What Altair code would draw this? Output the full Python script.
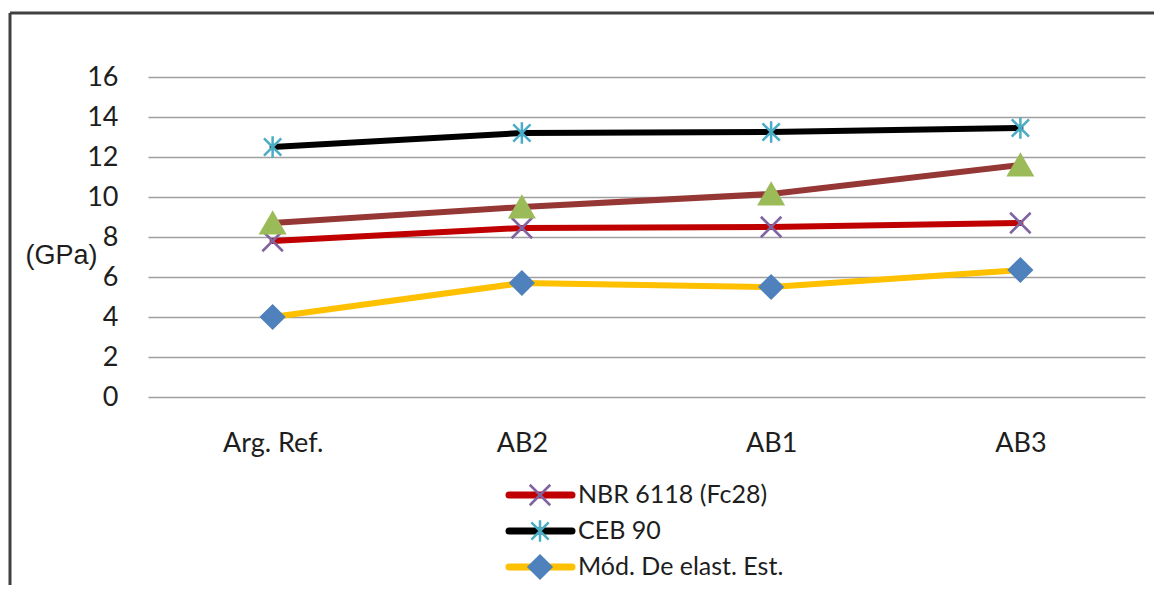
import altair as alt
import pandas as pd

# ---- data ----
categories = ["Arg. Ref.", "AB2", "AB1", "AB3"]
series_names = ["NBR 6118 (Fc28)", "CEB 90", "Mód. De elast. Est.", "Série 4"]
nbr_6118 = [7.8, 8.45, 8.5, 8.7]
ceb_90 = [12.5, 13.2, 13.25, 13.45]
mod_elast = [4.0, 5.7, 5.5, 6.35]
serie_4 = [8.7, 9.5, 10.15, 11.6]
legend_names = series_names[:3]
y_ticks = [0, 2, 4, 6, 8, 10, 12, 14, 16]

# ---- styles ----
line_colors = ["#C00000", "#000000", "#FFC000", "#953735"]
marker_colors = ["#8064A2", "#4BACC6", "#4F81BD", "#9BBB59"]
marker_shapes = [
    "M-1,-1L1,1M1,-1L-1,1",
    "M0,-1L0,1M-0.8,-0.8L0.8,0.8M-0.8,0.8L0.8,-0.8",
    "diamond",
    "triangle-up",
]
marker_sizes = [420, 560, 400, 441]
FONT = "Lato"
TEXT_COLOR = "#1e1e1e"

rows = []
for name, vals in zip(series_names, [nbr_6118, ceb_90, mod_elast, serie_4]):
    for c, v in zip(categories, vals):
        rows.append({"category": c, "series": name, "value": v})
df = pd.DataFrame(rows)
legend_df = pd.DataFrame({"series": legend_names})

color_scale = alt.Scale(domain=series_names, range=line_colors)
mcolor_scale = alt.Scale(domain=series_names, range=marker_colors)
shape_scale = alt.Scale(domain=series_names, range=marker_shapes)
size_scale = alt.Scale(domain=series_names, range=marker_sizes)

x_axis = alt.Axis(
    labelAngle=0, domain=False, ticks=False, labelPadding=33,
    labelFont=FONT, labelFontSize=27, labelColor=TEXT_COLOR,
)
y_axis = alt.Axis(
    values=y_ticks, labelOverlap=False, domain=False, ticks=False,
    labelPadding=30, labelFont=FONT, labelFontSize=27, labelColor=TEXT_COLOR,
    grid=True, gridColor="#a0a0a0", gridWidth=1.6,
    title="(GPa)", titleAngle=0, titleAlign="right", titleBaseline="middle",
    titleX=-51, titleY=178, titleFont="Liberation Sans", titleFontSize=27,
    titleFontWeight="normal", titleColor=TEXT_COLOR,
)
x_enc = alt.X("category:N", sort=categories, title=None, axis=x_axis)
y_enc = alt.Y("value:Q", scale=alt.Scale(domain=[0, 16], nice=False), axis=y_axis)

lines = alt.Chart(df).mark_line(strokeWidth=6, strokeCap="round", strokeJoin="round").encode(
    x=x_enc,
    y=y_enc,
    color=alt.Color("series:N", scale=color_scale, legend=None),
    detail="series:N",
)

points = alt.Chart(df).mark_point(filled=False, strokeWidth=2.5, opacity=1).encode(
    x=x_enc,
    y=y_enc,
    shape=alt.Shape("series:N", scale=shape_scale, legend=None),
    fill=alt.Fill("series:N", scale=mcolor_scale, legend=None),
    stroke=alt.Stroke("series:N", scale=mcolor_scale, legend=None),
    size=alt.Size("series:O", scale=size_scale, legend=None),
)

# ---- manual legend (three rows, below the plot) ----
legend_layers = []
for i, name in enumerate(legend_names):
    row_y = 418 + 36 * i
    base = alt.Chart(legend_df).transform_filter(alt.datum.series == name)
    legend_layers.append(
        base.mark_rule(strokeWidth=7, strokeCap="round").encode(
            x=alt.value(361), x2=alt.value(424), y=alt.value(row_y),
            color=alt.Color("series:N", scale=color_scale, legend=None),
        )
    )
    legend_layers.append(
        base.mark_point(filled=False, strokeWidth=2.5, opacity=1).encode(
            x=alt.value(392), y=alt.value(row_y),
            shape=alt.Shape("series:N", scale=shape_scale, legend=None),
            fill=alt.Fill("series:N", scale=mcolor_scale, legend=None),
            stroke=alt.Stroke("series:N", scale=mcolor_scale, legend=None),
            size=alt.Size("series:O", scale=size_scale, legend=None),
        )
    )
    legend_layers.append(
        base.mark_text(
            align="left", baseline="middle", font=FONT, fontSize=25, color=TEXT_COLOR
        ).encode(x=alt.value(430), y=alt.value(row_y), text="series:N")
    )

frame_df = pd.DataFrame({"k": [0]})
frame_top = alt.Chart(frame_df).mark_rule(color="#404040", strokeWidth=3).encode(
    x=alt.value(-138), x2=alt.value(1010), y=alt.value(-64)
)
frame_left = alt.Chart(frame_df).mark_rule(color="#404040", strokeWidth=3).encode(
    x=alt.value(-138), y=alt.value(-64), y2=alt.value(520)
)

chart = alt.layer(lines, points, *legend_layers, frame_top, frame_left).properties(
    width=997,
    height=320,
    autosize=alt.AutoSizeParams(type="none"),
    padding={"left": 140, "top": 69, "right": 9, "bottom": 188},
    background="white",
).configure_view(stroke=None)

chart.save("out.html", embed_options={"renderer": "svg", "actions": False})
